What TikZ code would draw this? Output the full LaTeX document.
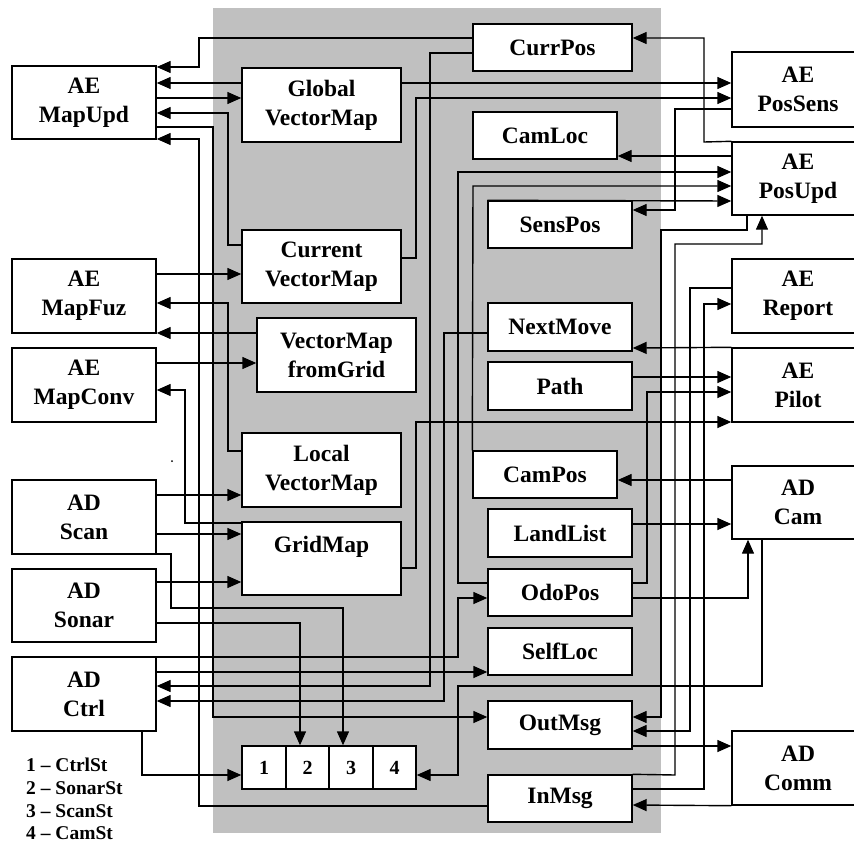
\documentclass[tikz,border=0pt]{standalone}
\usepackage{fontspec}
\setmainfont{Liberation Serif}
\usetikzlibrary{arrows.meta}
\definecolor{bggray}{RGB}{192,192,192}
\tikzset{
  box/.style={draw, line width=1.4pt, fill=white, align=center, inner sep=0pt,
    font=\bfseries\fontsize{23.5}{29}\selectfont},
  cell/.style={draw, line width=1.4pt, fill=white, inner sep=0pt,
    minimum height=43pt, font=\bfseries\fontsize{20}{22}\selectfont},
  legend/.style={anchor=base west, inner sep=0pt, font=\bfseries\fontsize{19.5}{22}\selectfont},
  arr/.style={line width=1.4pt, -{Triangle[length=14pt,width=12pt]}},
}
\begin{document}
\begin{tikzpicture}[x=1pt,y=-1pt]
\useasboundingbox (0,0) rectangle (854,846);
\clip (0,0) rectangle (854,846);
\fill[bggray] (213,8) rectangle (661,833);
% left column
\node[box, minimum width=144pt, minimum height=73pt] (mapupd) at (84,102.5) {AE\\MapUpd};
\node[box, minimum width=144pt, minimum height=74pt] (mapfuz) at (84,296) {AE\\MapFuz};
\node[box, minimum width=144pt, minimum height=74pt] (mapconv) at (84,385) {AE\\MapConv};
\node[box, minimum width=144pt, minimum height=74pt] (scan) at (84,517) {AD\\Scan};
\node[box, minimum width=144pt, minimum height=73pt] (sonar) at (84,605.5) {AD\\Sonar};
\node[box, minimum width=144pt, minimum height=74pt] (ctrl) at (84,694) {AD\\Ctrl};
% inner left column
\node[box, minimum width=159pt, minimum height=74pt] (gvm) at (321.5,105) {Global\\VectorMap};
\node[box, minimum width=159pt, minimum height=73pt] (cvm) at (321.5,266.5) {Current\\VectorMap};
\node[box, minimum width=159pt, minimum height=74pt] (vmfg) at (336.5,355) {VectorMap\\fromGrid};
\node[box, minimum width=159pt, minimum height=74pt] (lvm) at (321.5,470) {Local\\VectorMap};
\node[box, minimum width=159pt, minimum height=73pt] (grid) at (321.5,558.5) {GridMap\\~};
% inner right column
\node[box, minimum width=159pt, minimum height=47pt] (currpos) at (552.5,47.5) {CurrPos};
\node[box, minimum width=144pt, minimum height=47pt] (camloc) at (545,135.5) {CamLoc};
\node[box, minimum width=144pt, minimum height=47pt] (senspos) at (560,224.5) {SensPos};
\node[box, minimum width=144pt, minimum height=48pt] (nextmove) at (560,327) {NextMove};
\node[box, minimum width=144pt, minimum height=48pt] (path) at (560,386) {Path};
\node[box, minimum width=144pt, minimum height=47pt] (campos) at (545,474.5) {CamPos};
\node[box, minimum width=144pt, minimum height=48pt] (landlist) at (560,533) {LandList};
\node[box, minimum width=144pt, minimum height=47pt] (odopos) at (560,592.5) {OdoPos};
\node[box, minimum width=144pt, minimum height=47pt] (selfloc) at (560,651.5) {SelfLoc};
\node[box, minimum width=144pt, minimum height=48pt] (outmsg) at (560,725) {OutMsg};
\node[box, minimum width=144pt, minimum height=47pt] (inmsg) at (560,798.5) {InMsg};
% right column
\node[box, minimum width=132pt, minimum height=75pt] (possens) at (798,89.5) {AE\\PosSens};
\node[box, minimum width=132pt, minimum height=73pt] (posupd) at (798,178.5) {AE\\PosUpd};
\node[box, minimum width=132pt, minimum height=74pt] (report) at (798,296) {AE\\Report};
\node[box, minimum width=132pt, minimum height=74pt] (pilot) at (798,385) {AE\\Pilot};
\node[box, minimum width=132pt, minimum height=73pt] (cam) at (798,502.5) {AD\\Cam};
\node[box, minimum width=132pt, minimum height=74pt] (comm) at (798,768) {AD\\Comm};
% state cells
\node[cell, minimum width=44pt] (c1) at (264,767.5) {1};
\node[cell, minimum width=43pt] (c2) at (307.5,767.5) {2};
\node[cell, minimum width=44pt] (c3) at (351,767.5) {3};
\node[cell, minimum width=43pt] (c4) at (394.5,767.5) {4};
% legend
\node[legend] (leg1) at (26,771) {1 -- CtrlSt};
\node[legend] (leg2) at (26,794) {2 -- SonarSt};
\node[legend] (leg3) at (26,817) {3 -- ScanSt};
\node[legend] (leg4) at (26,839) {4 -- CamSt};
\fill (172,461) circle (1pt);
% connectors, left side
\draw[arr] (currpos.west|-0,38) -- (199,38) -- (199,67) -- (mapupd.east|-0,67);
\draw[arr] (gvm.west|-0,83) -- (mapupd.east|-0,83);
\draw[arr] (mapupd.east|-0,98) -- (gvm.west|-0,98);
\draw[arr] (cvm.west|-0,245) -- (228,245) -- (228,113) -- (mapupd.east|-0,113);
\draw[arr] (mapupd.east|-0,127) -- (213,127) -- (213,717) -- (outmsg.west|-0,717);
\draw[arr] (inmsg.west|-0,806) -- (199,806) -- (199,139) -- (mapupd.east|-0,139);
\draw[arr] (mapfuz.east|-0,274) -- (cvm.west|-0,274);
\draw[arr] (lvm.west|-0,451) -- (228,451) -- (228,303) -- (mapfuz.east|-0,303);
\draw[arr] (vmfg.west|-0,333) -- (mapfuz.east|-0,333);
\draw[arr] (mapconv.east|-0,363) -- (vmfg.west|-0,363);
\draw[arr] (grid.west|-0,523) -- (185,523) -- (185,390) -- (mapconv.east|-0,390);
\draw[arr] (scan.east|-0,495) -- (lvm.west|-0,495);
\draw[arr] (scan.east|-0,534) -- (grid.west|-0,534);
\draw[arr] (scan.east|-0,554) -- (171,554) -- (171,608) -- (343,608) -- (c3.north-|343,0);
\draw[arr] (sonar.east|-0,582) -- (grid.west|-0,582);
\draw[arr] (sonar.east|-0,623) -- (300,623) -- (c2.north-|300,0);
\draw[arr] (ctrl.east|-0,657) -- (458,657) -- (458,598) -- (odopos.west|-0,598);
\draw[arr] (ctrl.east|-0,672) -- (selfloc.west|-0,672);
\draw[arr] (currpos.west|-0,53) -- (430,53) -- (430,686) -- (ctrl.east|-0,686);
\draw[arr] (nextmove.west|-0,333) -- (444,333) -- (444,701) -- (ctrl.east|-0,701);
\draw[arr] (ctrl.south-|142,0) -- (142,775) -- (c1.west|-0,775);
\draw[arr] (cam.south-|762,0) -- (762,686) -- (458,686) -- (458,775) -- (c4.east|-0,775);
% connectors, right side
\draw[arr] (posupd.north west) -- (704,142) -- (704,38) -- (currpos.east|-0,38);
\draw[arr] (gvm.east|-0,83) -- (possens.west|-0,83);
\draw[arr] (cvm.east|-0,258) -- (416,258) -- (416,98) -- (possens.west|-0,98);
\draw[arr] (possens.west|-0,109) -- (675,109) -- (675,210) -- (senspos.east|-0,210);
\draw[arr] (posupd.west|-0,156) -- (camloc.east|-0,156);
\draw[arr] (odopos.west|-0,583) -- (458,583) -- (458,172) -- (posupd.west|-0,172);
\draw[arr] (campos.north west) -- (473,186) -- (posupd.west|-0,186);
\draw[arr] (senspos.north west) -- (posupd.west|-0,201);
\draw[arr] (posupd.south-|747,0) -- (747,230) -- (661,230) -- (661,717) -- (outmsg.east|-0,717);
\draw[arr] (inmsg.north east) -- (675,775) -- (675,244) -- (762,244) -- (posupd.south-|762,0);
\draw[arr] (report.west|-0,288) -- (690,288) -- (690,731) -- (outmsg.east|-0,731);
\draw[arr] (inmsg.east|-0,789) -- (704,789) -- (704,304) -- (report.west|-0,304);
\draw[arr] (pilot.north west) -- (nextmove.east|-0,348);
\draw[arr] (path.east|-0,377) -- (pilot.west|-0,377);
\draw[arr] (odopos.east|-0,583) -- (647,583) -- (647,392) -- (pilot.west|-0,392);
\draw[arr] (grid.east|-0,568) -- (416,568) -- (416,422) -- (pilot.west|-0,422);
\draw[arr] (cam.west|-0,480) -- (campos.east|-0,480);
\draw[arr] (landlist.east|-0,524) -- (cam.west|-0,524);
\draw[arr] (odopos.east|-0,598) -- (748,598) -- (cam.south-|748,0);
\draw[arr] (outmsg.east|-0,746) -- (comm.west|-0,746);
\draw[arr] (comm.south west) -- (inmsg.east|-0,805);
\end{tikzpicture}
\end{document}
